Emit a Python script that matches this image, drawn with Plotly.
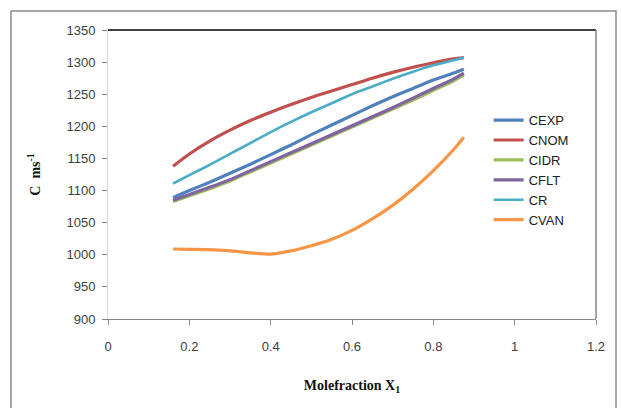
import plotly.graph_objects as go

x = [0.16, 0.2, 0.25, 0.3, 0.35, 0.4, 0.45, 0.5, 0.55, 0.6, 0.65, 0.7, 0.75, 0.8, 0.85, 0.875]
cexp = [1089, 1100, 1113, 1127, 1141, 1156, 1171, 1187, 1202, 1217, 1232, 1246, 1259, 1272, 1283, 1289]
cnom = [1138, 1157, 1177, 1194, 1209, 1222, 1234, 1245, 1255, 1265, 1275, 1284, 1292, 1299, 1305, 1307]
cidr = [1083, 1092, 1103, 1115, 1129, 1143, 1157, 1171, 1185, 1199, 1213, 1227, 1241, 1256, 1271, 1280]
cflt = [1085, 1094, 1105, 1117, 1131, 1145, 1159, 1173, 1187, 1201, 1215, 1229, 1244, 1259, 1274, 1283]
cr = [1111, 1124, 1140, 1157, 1174, 1191, 1207, 1222, 1236, 1250, 1262, 1274, 1285, 1295, 1303, 1307]
cvan = [1009, 1008.5, 1008, 1006, 1003, 1001, 1006, 1014, 1024, 1038, 1056, 1077, 1102, 1131, 1164, 1183]

series = [
    ("CEXP", cexp, "#4F81BD", 3.2),
    ("CNOM", cnom, "#C0504D", 3.2),
    ("CIDR", cidr, "#9BBB59", 3.2),
    ("CFLT", cflt, "#8064A2", 3.2),
    ("CR", cr, "#4BACC6", 2.6),
    ("CVAN", cvan, "#F79646", 3.2),
]

fig = go.Figure()
for name, ys, col, w in series:
    fig.add_trace(go.Scatter(x=x, y=ys, name=name, mode="lines",
                             line=dict(color=col, width=w, shape="spline", smoothing=0.6)))

tickfont = dict(family="Liberation Sans", size=13, color="#404040")
fig.update_layout(
    width=621, height=408,
    margin=dict(l=108, r=25, t=30, b=89),
    paper_bgcolor="white", plot_bgcolor="white",
    showlegend=True,
    legend=dict(x=0.78, y=0.74, xanchor="left", yanchor="top",
                font=dict(family="Liberation Sans", size=13, color="#222"),
                tracegroupgap=0, itemwidth=30, bgcolor="rgba(0,0,0,0)"),
    xaxis=dict(range=[0, 1.2], showgrid=False, zeroline=False,
               showline=True, linecolor="#868686", linewidth=1,
               ticks="outside", ticklen=5, tickcolor="#868686",
               tickfont=tickfont, ticklabelstandoff=10,
               tickvals=[0, 0.2, 0.4, 0.6, 0.8, 1.0, 1.2],
               ticktext=["0", "0.2", "0.4", "0.6", "0.8", "1", "1.2"],
               title=dict(text="<b>Molefraction X<sub>1</sub></b>",
                          font=dict(family="Liberation Serif", size=14, color="#111"),
                          standoff=27)),
    yaxis=dict(range=[900, 1350], dtick=50, showgrid=False, zeroline=False,
               showline=True, linecolor="#D9D9D9", linewidth=1,
               ticks="outside", ticklen=5, tickcolor="#868686",
               tickfont=tickfont, ticklabelstandoff=4,
               title=dict(text="<b>C  ms<sup>-1</sup></b>",
                          font=dict(family="Liberation Serif", size=14, color="#111"),
                          standoff=22)),
    shapes=[
        dict(type="line", xref="paper", yref="paper", x0=0, x1=1, y0=1, y1=1,
             line=dict(color="black", width=1.5)),
        dict(type="line", xref="paper", yref="paper", x0=1, x1=1, y0=0, y1=1,
             line=dict(color="#868686", width=1.5)),
        dict(type="rect", xref="paper", yref="paper", x0=-0.1988, x1=1.041,
             y0=-0.33, y1=1.0657, line=dict(color="#8C8C8C", width=1.5)),
    ],
)

fig.write_html("out.html")
